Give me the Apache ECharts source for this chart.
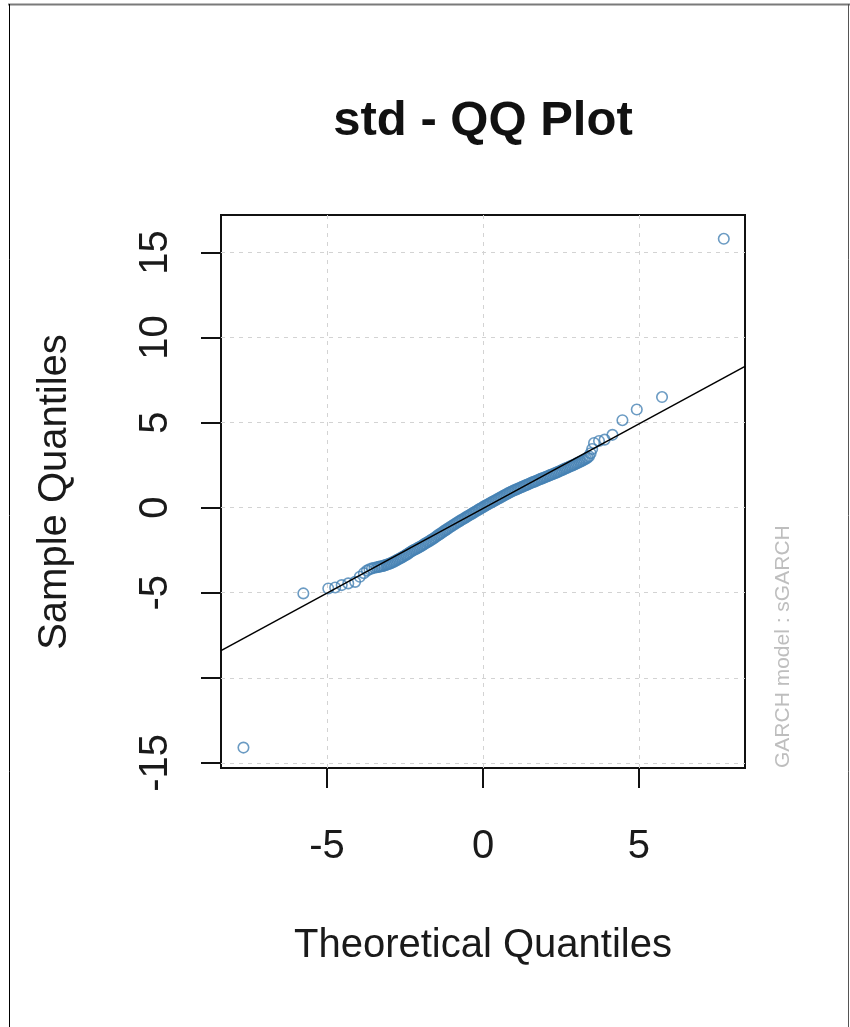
<!DOCTYPE html>
<html>
<head>
<meta charset="utf-8">
<script src="https://cdn.jsdelivr.net/npm/echarts@6/dist/echarts.min.js"></script>
<style>
html,body{margin:0;padding:0;background:#fff;}
#c{width:850px;height:1027px;}
</style>
</head>
<body>
<div id="c"></div>
<script>
// Theoretical quantiles (x) and sample quantiles (y)
const theoretical = [
  -7.68, -5.76, -4.96, -4.74, -4.53, -4.32, -4.10, -3.95, -3.82, -3.72, -3.64, -3.56, -3.48,
  -3.40, -3.35, -3.30, -3.25, -3.20, -3.15, -3.10, -3.05, -3.00, -2.95,
  -2.90, -2.85, -2.80, -2.75, -2.70, -2.65, -2.60, -2.55, -2.50, -2.45,
  -2.40, -2.35, -2.30, -2.25, -2.20, -2.15, -2.10, -2.05, -2.00, -1.95,
  -1.90, -1.85, -1.80, -1.75, -1.70, -1.65, -1.60, -1.55, -1.50, -1.45,
  -1.40, -1.35, -1.30, -1.25, -1.20, -1.15, -1.10, -1.05, -1.00, -0.95,
  -0.90, -0.85, -0.80, -0.75, -0.70, -0.65, -0.60, -0.55, -0.50, -0.45,
  -0.40, -0.35, -0.30, -0.25, -0.20, -0.15, -0.10, -0.05, 0.00, 0.05,
  0.10, 0.15, 0.20, 0.25, 0.30, 0.35, 0.40, 0.45, 0.50, 0.55,
  0.60, 0.65, 0.70, 0.75, 0.80, 0.85, 0.90, 0.95, 1.00, 1.05,
  1.10, 1.15, 1.20, 1.25, 1.30, 1.35, 1.40, 1.45, 1.50, 1.55,
  1.60, 1.65, 1.70, 1.75, 1.80, 1.85, 1.90, 1.95, 2.00, 2.05,
  2.10, 2.15, 2.20, 2.25, 2.30, 2.35, 2.40, 2.45, 2.50, 2.55,
  2.60, 2.65, 2.70, 2.75, 2.80, 2.85, 2.90, 2.95, 3.00, 3.05,
  3.10, 3.15, 3.20, 3.25, 3.30, 3.35, 3.40, 3.45, 3.50,
  3.56, 3.72, 3.90, 4.15, 4.47, 4.93, 5.74, 7.72
];
const sample = [
  -14.1, -5.04, -4.75, -4.69, -4.55, -4.45, -4.36, -4.06, -3.85, -3.70, -3.62, -3.57, -3.53,
  -3.50, -3.48, -3.46, -3.44, -3.42, -3.39, -3.36, -3.33, -3.30, -3.26,
  -3.21, -3.17, -3.12, -3.07, -3.02, -2.97, -2.92, -2.87, -2.81, -2.76,
  -2.70, -2.64, -2.58, -2.52, -2.47, -2.43, -2.38, -2.33, -2.28, -2.22,
  -2.16, -2.11, -2.05, -2.00, -1.94, -1.89, -1.83, -1.77, -1.70, -1.63,
  -1.57, -1.51, -1.45, -1.38, -1.32, -1.26, -1.20, -1.14, -1.08, -1.02,
  -0.96, -0.90, -0.84, -0.79, -0.73, -0.68, -0.62, -0.57, -0.51, -0.46,
  -0.40, -0.35, -0.29, -0.24, -0.18, -0.13, -0.07, -0.02, 0.03, 0.09,
  0.14, 0.19, 0.24, 0.29, 0.34, 0.39, 0.44, 0.49, 0.54, 0.59,
  0.64, 0.69, 0.74, 0.79, 0.84, 0.89, 0.93, 0.98, 1.02, 1.06,
  1.10, 1.14, 1.18, 1.22, 1.26, 1.30, 1.34, 1.38, 1.42, 1.46,
  1.50, 1.53, 1.57, 1.61, 1.65, 1.69, 1.72, 1.76, 1.80, 1.83,
  1.87, 1.91, 1.95, 1.98, 2.02, 2.06, 2.10, 2.14, 2.18, 2.22,
  2.27, 2.31, 2.35, 2.39, 2.43, 2.47, 2.51, 2.55, 2.60, 2.64,
  2.69, 2.73, 2.78, 2.83, 2.88, 2.94, 3.02, 3.20, 3.45,
  3.80, 3.92, 4.00, 4.28, 5.14, 5.77, 6.50, 15.8
];
// Reference (qq) line endpoints
const lineX = [-8.4, 8.4];
const lineY = [-8.4, 8.3];
// Ticks
const xTicks = [-5, 0, 5];
const xTickLabels = ['-5', '0', '5'];
const yTicks = [-15, -10, -5, 0, 5, 10, 15];
const yTickLabels = ['-15', '', '-5', '0', '5', '10', '15'];

const titleText = 'std - QQ Plot';
const xName = 'Theoretical Quantiles';
const yName = 'Sample Quantiles';
const noteText = 'GARCH model : sGARCH';

const points = theoretical.map((v, i) => [v, sample[i]]);
const linePts = lineX.map((v, i) => [v, lineY[i]]);

const FONT = 'Liberation Sans, Arial, sans-serif';
const chart = echarts.init(document.getElementById('c'), null, {renderer: 'canvas'});
const option = {
  animation: false,
  backgroundColor: '#ffffff',
  grid: {left: 221, right: 105, top: 215, bottom: 259, show: true,
         borderColor: '#111111', borderWidth: 2, backgroundColor: 'transparent'},
  xAxis: {
    type: 'value', min: -8.4, max: 8.4,
    axisLine: {show: false, onZero: false},
    axisTick: {show: true, length: 20, customValues: xTicks, lineStyle: {color: '#111', width: 2}},
    axisLabel: {customValues: xTicks, fontSize: 40, color: '#1a1a1a', fontFamily: FONT, margin: 59,
      formatter: v => { const i = xTicks.indexOf(v); return i >= 0 ? xTickLabels[i] : ''; }},
    splitLine: {show: true, lineStyle: {color: '#d3d3d3', width: 1, type: [4, 5]}}
  },
  yAxis: {
    type: 'value', min: -15.3, max: 17.2,
    axisLine: {show: false, onZero: false},
    axisTick: {show: true, length: 20, customValues: yTicks, lineStyle: {color: '#111', width: 2}},
    axisLabel: {customValues: yTicks, rotate: 90, fontSize: 40, color: '#1a1a1a', fontFamily: FONT, margin: 45,
      formatter: v => { const i = yTicks.indexOf(v); return i >= 0 ? yTickLabels[i] : ''; }},
    splitLine: {show: true, lineStyle: {color: '#d3d3d3', width: 1, type: [4, 5]}}
  },
  series: [
    {type: 'scatter', data: points, symbol: 'circle', symbolSize: 10.5, z: 2,
     itemStyle: {color: 'rgba(0,0,0,0)', borderColor: '#4682B4', borderWidth: 1.6}},
    {type: 'line', data: linePts, symbol: 'none', z: 3,
     lineStyle: {color: '#000', width: 1.5}}
  ],
  graphic: [
    {type: 'line', shape: {x1: 8, y1: 4.5, x2: 850, y2: 4.5}, style: {stroke: '#7a7a7a', lineWidth: 2}},
    {type: 'line', shape: {x1: 9.5, y1: 4, x2: 9.5, y2: 1027}, style: {stroke: '#000', lineWidth: 1}},
    {type: 'line', shape: {x1: 848.5, y1: 4, x2: 848.5, y2: 1027}, style: {stroke: '#555', lineWidth: 1}},
    {type: 'text', x: 483, y: 121, style: {text: titleText, font: 'bold 49px ' + FONT, fill: '#111',
      textAlign: 'center', textVerticalAlign: 'middle'}},
    {type: 'text', x: 483, y: 946, style: {text: xName, font: '40px ' + FONT, fill: '#1a1a1a',
      textAlign: 'center', textVerticalAlign: 'middle'}},
    {type: 'text', x: 54.5, y: 492, rotation: Math.PI / 2, style: {text: yName, font: '40px ' + FONT, fill: '#1a1a1a',
      textAlign: 'center', textVerticalAlign: 'middle'}},
    {type: 'text', x: 783, y: 768, rotation: Math.PI / 2, style: {text: noteText, font: '21px ' + FONT, fill: '#bebebe',
      textAlign: 'left', textVerticalAlign: 'middle'}}
  ]
};
chart.setOption(option);
</script>
</body>
</html>
